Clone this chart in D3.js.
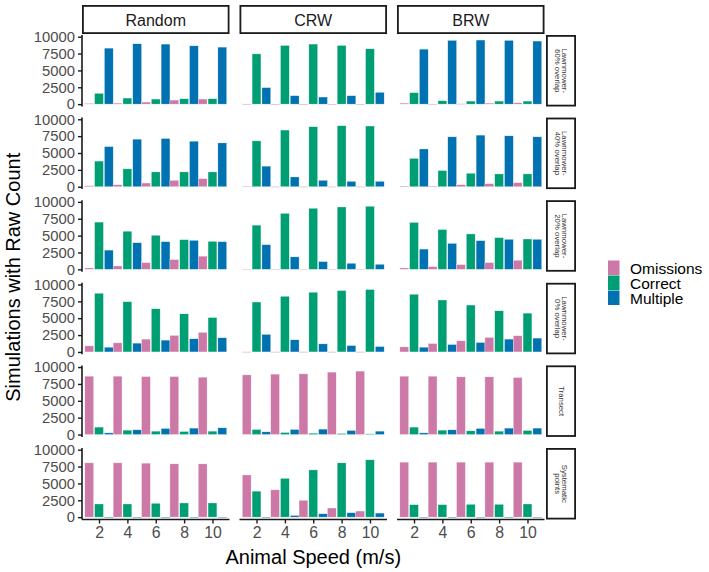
<!DOCTYPE html>
<html>
<head>
<meta charset="utf-8">
<script src="https://cdn.jsdelivr.net/npm/d3@7"></script>
<style>
  html, body { margin: 0; padding: 0; background: #fff; }
  svg { display: block; font-family: "Liberation Sans", Arial, Helvetica, sans-serif; }
</style>
</head>
<body>
<svg id="chart" width="709" height="572"></svg>
<script>
// ---------------- data ----------------
const speeds = [2, 4, 6, 8, 10];
const movements = ["Random", "CRW", "BRW"];
const designs = [
  ["Lawnmower-", "60% overlap"],
  ["Lawnmower-", "40% overlap"],
  ["Lawnmower-", "20% overlap"],
  ["Lawnmower-", "0% overlap"],
  ["Transect"],
  ["Systematic", "points"]
];
const seriesNames = ["Omissions", "Correct", "Multiple"];
const seriesColors = ["#CC79A7", "#009E73", "#0072B2"];
const yTicks = [0, 2500, 5000, 7500, 10000];

// values[design][movement][speed]
const omissions = [
  [[100, 150, 300, 600, 750], [30, 20, 20, 20, 20], [150, 30, 60, 150, 200]],
  [[150, 300, 550, 950, 1200], [50, 20, 20, 20, 20], [100, 100, 300, 450, 600]],
  [[200, 500, 1000, 1450, 1950], [20, 20, 20, 20, 20], [200, 400, 700, 1000, 1350]],
  [[900, 1350, 1900, 2450, 2900], [20, 20, 20, 20, 20], [750, 1250, 1650, 2150, 2400]],
  [[8650, 8650, 8600, 8600, 8500], [8850, 8950, 9000, 9250, 9400], [8650, 8650, 8550, 8550, 8450]],
  [[8050, 8050, 8000, 7900, 7900], [6250, 4050, 2500, 1350, 900], [8150, 8150, 8150, 8150, 8150]]
];
const correct = [
  [[1600, 900, 750, 800, 800], [7450, 8700, 8900, 8700, 8200], [1700, 500, 450, 450, 450]],
  [[3800, 2650, 2200, 2200, 2200], [6800, 8400, 8900, 9050, 9000], [4200, 2400, 2000, 1900, 1900]],
  [[7000, 5650, 5050, 4400, 4150], [6550, 8300, 9050, 9250, 9350], [6950, 5900, 5250, 4700, 4500]],
  [[8700, 7450, 6400, 5650, 5100], [7400, 8250, 8850, 9100, 9250], [8550, 7700, 6950, 6100, 5750]],
  [[1100, 650, 500, 450, 500], [750, 300, 200, 150, 100], [1100, 650, 550, 500, 600]],
  [[1950, 1950, 2050, 2100, 2100], [3850, 5750, 7000, 8050, 8500], [1850, 1850, 1900, 1900, 1950]]
];
const multiple = [
  [[8300, 8950, 8900, 8650, 8450], [2450, 1250, 1050, 1250, 1750], [8150, 9450, 9500, 9450, 9350]],
  [[5950, 7050, 7150, 6750, 6500], [3050, 1450, 950, 800, 800], [5600, 7400, 7650, 7550, 7400]],
  [[2850, 3950, 4100, 4300, 4100], [3650, 1850, 1150, 900, 750], [3000, 3850, 4250, 4450, 4450]],
  [[700, 1300, 1750, 1950, 2100], [2600, 1800, 1200, 950, 800], [700, 1100, 1400, 1900, 2050]],
  [[250, 700, 900, 950, 1000], [400, 750, 800, 600, 500], [250, 700, 900, 950, 950]],
  [[20, 20, 20, 20, 30], [20, 250, 500, 650, 600], [10, 10, 10, 10, 10]]
];
const seriesValues = [omissions, correct, multiple];

// ---------------- layout ----------------
const svg = d3.select("#chart");
const colX0 = [82, 239.5, 397];
const panelW = 147.5;
const rowTop0 = 35, rowPitch = 82.6, panelH = 71.5;
const stripTopY = 5, stripTopH = 29;
const stripRightX = 546, stripRightW = 30;
const axisColor = "#1a1a1a";
const tickTextColor = "#4d4d4d";

const x = d3.scalePoint().domain(speeds).range([0, panelW]).padding(0.6);
const xInner = d3.scaleBand().domain(seriesNames).range([-14.2, 14.2]).paddingInner(0.1);
const y = d3.scaleLinear().domain([-350, 10250]).range([panelH, 0]);
const color = d3.scaleOrdinal().domain(seriesNames).range(seriesColors);

// panels
designs.forEach((design, r) => {
  const top = rowTop0 + r * rowPitch;
  movements.forEach((mov, c) => {
    const g = svg.append("g").attr("transform", `translate(${colX0[c]},${top})`);
    speeds.forEach((sp, k) => {
      seriesNames.forEach((s, si) => {
        const v = seriesValues[si][r][c][k];
        g.append("rect")
          .attr("x", x(sp) + xInner(s))
          .attr("width", xInner.bandwidth())
          .attr("y", y(v))
          .attr("height", Math.max(0.6, y(0) - y(v)))
          .attr("fill", color(s))
          .attr("stroke", "#ffffff")
          .attr("stroke-opacity", 0.6)
          .attr("stroke-width", 0.5);
      });
    });

    // y axis on first column
    if (c === 0) {
      const ay = g.append("g").call(d3.axisLeft(y).tickValues(yTicks).tickSize(4).tickPadding(3).tickFormat(d3.format("d")));
      ay.select(".domain").attr("d", `M0,0V${panelH}`).attr("stroke", axisColor).attr("stroke-width", 1.6);
      ay.selectAll(".tick line").attr("stroke", axisColor).attr("stroke-width", 1.4);
      ay.selectAll(".tick text").attr("fill", tickTextColor).style("font-size", "14.8px")
        .style("font-family", '"Liberation Sans", Arial, sans-serif');
    }
    // x axis on last row
    if (r === designs.length - 1) {
      const ax = g.append("g").attr("transform", `translate(0,${panelH})`)
        .call(d3.axisBottom(x).tickSize(4).tickPadding(3));
      ax.select(".domain").attr("d", `M0,0H${panelW}`).attr("stroke", axisColor).attr("stroke-width", 1.6);
      ax.selectAll(".tick line").attr("stroke", axisColor).attr("stroke-width", 1.4);
      ax.selectAll(".tick text").attr("fill", tickTextColor).style("font-size", "15.8px")
        .style("font-family", '"Liberation Sans", Arial, sans-serif');
    }
  });

  // right strip
  const sg = svg.append("g").attr("transform", `translate(${stripRightX},${top})`);
  sg.append("rect").attr("x", 0.9).attr("y", 0.9)
    .attr("width", stripRightW - 1.8).attr("height", panelH - 1.8)
    .attr("fill", "#fff").attr("stroke", "#1a1a1a").attr("stroke-width", 1.8);
  const lh = 7.2;
  const tg = sg.append("g").attr("transform", `translate(${stripRightW / 2},${panelH / 2}) rotate(90)`);
  design.forEach((line, i) => {
    tg.append("text")
      .attr("x", 0)
      .attr("y", (i - (design.length - 1) / 2) * lh)
      .attr("text-anchor", "middle")
      .attr("dominant-baseline", "central")
      .attr("fill", "#333")
      .style("font-size", "7.8px")
      .text(line);
  });
});

// top strips
movements.forEach((mov, c) => {
  const g = svg.append("g").attr("transform", `translate(${colX0[c]},${stripTopY})`);
  g.append("rect").attr("x", 0.9).attr("y", 0.9)
    .attr("width", panelW - 1.8).attr("height", stripTopH - 1.8)
    .attr("fill", "#fff").attr("stroke", "#1a1a1a").attr("stroke-width", 1.8);
  g.append("text")
    .attr("x", panelW / 2).attr("y", 20.7)
    .attr("text-anchor", "middle")
    .attr("fill", "#1a1a1a")
    .style("font-size", "16px")
    .text(mov);
});

// axis titles
svg.append("text")
  .attr("x", (colX0[0] + colX0[2] + panelW) / 2)
  .attr("y", 564)
  .attr("text-anchor", "middle")
  .attr("fill", "#000")
  .style("font-size", "20px")
  .text("Animal Speed (m/s)");

svg.append("text")
  .attr("transform", `translate(20,${(rowTop0 + rowTop0 + 5 * rowPitch + panelH) / 2}) rotate(-90)`)
  .attr("text-anchor", "middle")
  .attr("fill", "#000")
  .style("font-size", "20px")
  .text("Simulations with Raw Count");

// legend
const lg = svg.append("g").attr("transform", "translate(608,260.5)");
seriesNames.forEach((s, i) => {
  lg.append("rect").attr("x", 0).attr("y", i * 15).attr("width", 11.5).attr("height", 14.5)
    .attr("fill", color(s));
  lg.append("text").attr("x", 22).attr("y", i * 15 + 7.5)
    .attr("dominant-baseline", "central")
    .attr("fill", "#000")
    .style("font-size", "15.5px")
    .text(s);
});
</script>
</body>
</html>
